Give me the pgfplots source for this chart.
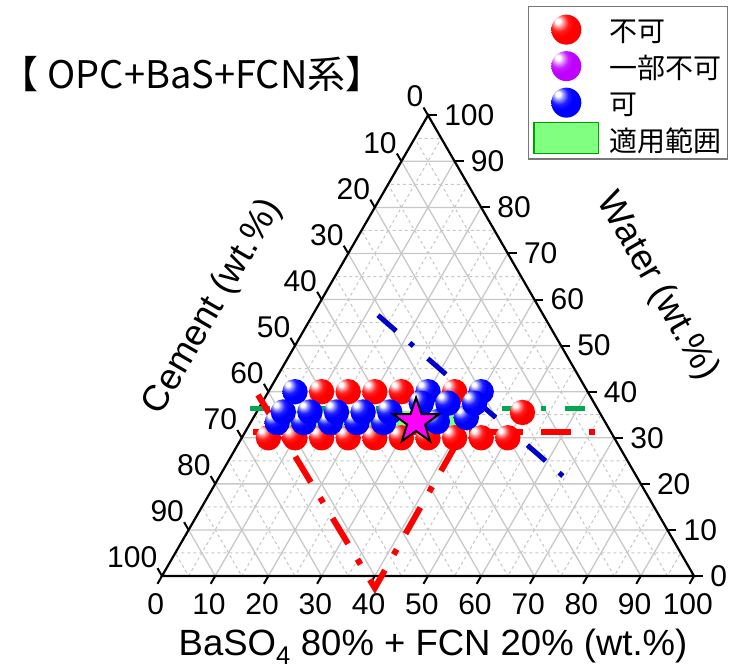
\documentclass[border=0pt]{standalone}
\usepackage{pgfplots}
\pgfplotsset{compat=1.18}
\usepackage{pgfplotstable}
\usepackage{fontspec}
\setmainfont{Liberation Sans}
\newfontfamily\jp{Noto Sans CJK JP}

\definecolor{bRed}{RGB}{255,0,0}
\definecolor{bBlue}{RGB}{0,0,255}
\definecolor{bPurple}{RGB}{191,0,255}
\definecolor{starMag}{RGB}{255,0,255}
\definecolor{bandGreen}{RGB}{128,255,128}
\definecolor{bandEdge}{RGB}{0,160,0}
\definecolor{lineGreen}{RGB}{0,168,80}
\definecolor{lineBlue}{RGB}{0,0,204}
\definecolor{gridMajor}{RGB}{200,200,200}
\definecolor{gridMinor}{RGB}{198,198,198}
\definecolor{legFrame}{RGB}{120,120,120}

\newcommand\tickfont{\fontsize{30}{34}\selectfont}
\newcommand\axfont{\fontsize{36.5}{42}\selectfont}

% glossy sphere shadings for the markers
\pgfdeclareradialshading{shRed}{\pgfpoint{-15bp}{15bp}}{color(0bp)=(white); color(4bp)=(white); color(9bp)=(bRed!45!white); color(15bp)=(bRed!88!white); color(22bp)=(bRed); color(58bp)=(bRed); color(75bp)=(bRed!85!black)}
\pgfdeclareradialshading{shBlue}{\pgfpoint{-15bp}{15bp}}{color(0bp)=(white); color(4bp)=(white); color(9bp)=(bBlue!45!white); color(15bp)=(bBlue!88!white); color(22bp)=(bBlue); color(58bp)=(bBlue); color(75bp)=(bBlue!85!black)}
\pgfdeclareradialshading{shPurple}{\pgfpoint{-15bp}{15bp}}{color(0bp)=(white); color(4bp)=(white); color(9bp)=(bPurple!45!white); color(15bp)=(bPurple!88!white); color(22bp)=(bPurple); color(58bp)=(bPurple); color(75bp)=(bPurple!85!black)}

\pgfdeclareplotmark{ballR}{\pgfpathcircle{\pgfpointorigin}{\pgfplotmarksize}\pgfshadepath{shRed}{0}\pgfusepath{discard}}
\pgfdeclareplotmark{ballB}{\pgfpathcircle{\pgfpointorigin}{\pgfplotmarksize}\pgfshadepath{shBlue}{0}\pgfusepath{discard}}
\pgfdeclareplotmark{ballP}{\pgfpathcircle{\pgfpointorigin}{\pgfplotmarksize}\pgfshadepath{shPurple}{0}\pgfusepath{discard}}

% filled five-pointed star
\pgfdeclareplotmark{fstar}{%
  \pgfpathmoveto{\pgfpointpolar{90}{\pgfplotmarksize}}%
  \pgfpathlineto{\pgfpointpolar{126}{0.39*\pgfplotmarksize}}%
  \pgfpathlineto{\pgfpointpolar{162}{\pgfplotmarksize}}%
  \pgfpathlineto{\pgfpointpolar{198}{0.39*\pgfplotmarksize}}%
  \pgfpathlineto{\pgfpointpolar{234}{\pgfplotmarksize}}%
  \pgfpathlineto{\pgfpointpolar{270}{0.39*\pgfplotmarksize}}%
  \pgfpathlineto{\pgfpointpolar{306}{\pgfplotmarksize}}%
  \pgfpathlineto{\pgfpointpolar{342}{0.39*\pgfplotmarksize}}%
  \pgfpathlineto{\pgfpointpolar{18}{\pgfplotmarksize}}%
  \pgfpathlineto{\pgfpointpolar{54}{0.39*\pgfplotmarksize}}%
  \pgfpathclose
  \pgfusepathqfillstroke}

% ternary (BaSO4+FCN = b, water = w, cement = 100-b-w) to Cartesian
\pgfplotsset{
  table/tern/.style={x expr={\thisrow{b}+0.5*\thisrow{w}}, y expr={0.8660254*\thisrow{w}}},
  ballleg/.style={legend image code/.code={%
      \path[draw=none, fill=none] (-1pt,-10pt) rectangle (65pt,22pt);
      \begin{scope}[shift={(32pt,4pt)}]\pgfsetplotmarksize{15pt}\pgfuseplotmark{#1}\end{scope}}},
  rectleg/.style={legend image code/.code={%
      \path[draw=none, fill=none] (-1pt,-10pt) rectangle (65pt,22pt);
      \path[fill=bandGreen, draw=bandEdge, line width=1.2pt] (-0.4pt,-10.4pt) rectangle (64.4pt,20.4pt);}},
}

\pgfplotstableread{
b w
5 30
10 30
15 30
20 30
25 30
30 30
35 30
40 30
45 30
50 30
10 40
15 40
20 40
25 40
35 40
50 35.5
}\redpts

\pgfplotstableread{
b w
5 40
30 40
40 40
5 33.3
10 33.3
15 33.3
20 33.3
25 33.3
35 33.5
5 35.6
10 35.6
15 35.6
20 35.6
25 35.6
40 34.4
30 37.5
35 37.5
40 37.5
}\bluepts

\begin{document}
\begin{tikzpicture}
\begin{axis}[
  x=5.32pt, y=5.32pt,
  xmin=-30.45, xmax=107.33, ymin=-17.29, ymax=108.27,
  hide axis, clip=false,
  legend cell align=left,
  legend style={at={(0.99318,0.99102)}, anchor=north east,
    draw=legFrame, line width=1.3pt, fill=white,
    inner xsep=5pt, inner ysep=5pt, row sep=3.5pt,
    nodes={inner sep=1pt, text height=18pt, text depth=2pt},
    font=\jp\fontsize{28}{30}\selectfont,
    /tikz/every odd column/.append style={column sep=9pt}},
]
\path (axis cs:-30.45,-17.29) rectangle (axis cs:107.33,108.27);

\addlegendimage{ballleg=ballR}
\addlegendentry{不可}
\addlegendimage{ballleg=ballP}
\addlegendentry{一部不可}
\addlegendimage{ballleg=ballB}
\addlegendentry{可}
\addlegendimage{rectleg}
\addlegendentry{適用範囲}

% minor grid (every 5)
\addplot[gridMinor, line width=1pt, dash pattern=on 3pt off 3pt, line join=round] table[tern] {
b w
0 5
95 5
85 15
0 15
0 25
75 25
65 35
0 35
0 45
55 45
45 55
0 55
0 65
35 65
25 75
0 75
0 85
15 85
5 95
0 95
};
\addplot[gridMinor, line width=1pt, dash pattern=on 3pt off 3pt, line join=round] table[tern] {
b w
5 0
5 95
15 85
15 0
25 0
25 75
35 65
35 0
45 0
45 55
55 45
55 0
65 0
65 35
75 25
75 0
85 0
85 15
95 5
95 0
};
\addplot[gridMinor, line width=1pt, dash pattern=on 3pt off 3pt, line join=round] table[tern] {
b w
95 0
0 95
0 85
85 0
75 0
0 75
0 65
65 0
55 0
0 55
0 45
45 0
35 0
0 35
0 25
25 0
15 0
0 15
0 5
5 0
};
% major grid (every 10)
\addplot[gridMajor, line width=1.3pt, line join=round] table[tern] {
b w
0 10
90 10
80 20
0 20
0 30
70 30
60 40
0 40
0 50
50 50
40 60
0 60
0 70
30 70
20 80
0 80
0 90
10 90
};
\addplot[gridMajor, line width=1.3pt, line join=round] table[tern] {
b w
10 0
10 90
20 80
20 0
30 0
30 70
40 60
40 0
50 0
50 50
60 40
60 0
70 0
70 30
80 20
80 0
90 0
90 10
};
\addplot[gridMajor, line width=1.3pt, line join=round] table[tern] {
b w
90 0
0 90
0 80
80 0
70 0
0 70
0 60
60 0
50 0
0 50
0 40
40 0
30 0
0 30
0 20
20 0
10 0
0 10
};

% application range band
\addplot[draw=none, fill=bandGreen] table[tern] {
b w
5 32
40.4 32
38.5 35.8
3.1 35.8
};

% triangle frame
\addplot[black, line width=2.2pt, line join=miter] table[tern] {
b w
50 0
100 0
0 100
0 0
50 0
};

% ticks
\addplot[black, line width=2pt, quiver={u=-0.846, v=-1.465}] table[tern] {
b w
0 0
10 0
20 0
30 0
40 0
50 0
60 0
70 0
80 0
90 0
100 0
};
\addplot[black, line width=2pt, quiver={u=1.69, v=0}] table[tern] {
b w
100 0
90 10
80 20
70 30
60 40
50 50
40 60
30 70
20 80
10 90
0 100
};
\addplot[black, line width=2pt, quiver={u=-0.846, v=1.465}] table[tern] {
b w
0 100
0 90
0 80
0 70
0 60
0 50
0 40
0 30
0 20
0 10
0 0
};

% tick labels
\addplot[draw=none, mark=none, point meta=explicit symbolic, nodes near coords={\pgfplotspointmeta},
  nodes near coords style={anchor=north, inner sep=0pt, xshift=-1.7pt, yshift=-10pt, font=\tickfont, text=black}]
  table[tern, meta=lab] {
b w lab
0 -1.7 0
10 -1.7 10
20 -1.7 20
30 -1.7 30
40 -1.7 40
50 -1.7 50
60 -1.7 60
70 -1.7 70
80 -1.7 80
90 -1.7 90
100 -1.7 100
};
\addplot[draw=none, mark=none, point meta=explicit symbolic, nodes near coords={\pgfplotspointmeta},
  nodes near coords style={anchor=west, inner sep=0pt, xshift=7pt, font=\tickfont, text=black}]
  table[tern, meta=lab] {
b w lab
101.7 0 0
91.7 10 10
81.7 20 20
71.7 30 30
61.7 40 40
51.7 50 50
41.7 60 60
31.7 70 70
21.7 80 80
11.7 90 90
1.7 100 100
};
\addplot[draw=none, mark=none, point meta=explicit symbolic, nodes near coords={\pgfplotspointmeta},
  nodes near coords style={anchor=south east, inner sep=0pt, font=\tickfont, text=black}]
  table[tern, meta=lab] {
b w lab
-1.7 101.7 0
-1.7 91.7 10
-1.7 81.7 20
-1.7 71.7 30
-1.7 61.7 40
-1.7 51.7 50
-1.7 41.7 60
-1.7 31.7 70
-1.7 21.7 80
-1.7 11.7 90
-1.7 1.7 100
};

% samples
\addplot[only marks, mark=ballR, mark size=12.7pt] table[tern] {\redpts};
\addplot[only marks, mark=ballB, mark size=12.7pt] table[tern] {\bluepts};

% boundary lines
\addplot[lineGreen, line width=5pt, dash pattern=on 20pt off 19pt on 5pt off 19pt] table[tern] {
b w
-1.7 36.4
64.1 36.4
};
\addplot[bRed, line width=6pt, dash pattern=on 30pt off 18pt on 6pt off 18pt] table[tern] {
b w
1.45 31.3
67.95 31.3
};
\addplot[bRed, line width=6pt, dash pattern=on 30pt off 18pt on 6pt off 18pt, line join=miter] table[tern] {
b w
-1.6 39.3
41.3 -2.6
40.9 38.8
};
\addplot[lineBlue, line width=5pt, dash pattern=on 24pt off 18pt on 5pt off 19pt] table[tern] {
b w
12.3 56.6
64.5 21.7
};

% selected mix
\addplot[only marks, mark=fstar, mark size=24pt, mark options={fill=starMag, draw=black, line width=2pt}] table[tern] {
b w
31 33.5
};

% titles
\node[rotate=60, font=\axfont] at (axis cs:9.59,50.56) {Cement (wt.\%)};
\node[rotate=-60, font=\axfont] at (axis cs:93.05,54.32) {Water (wt.\%)};
\node[anchor=base, font=\axfont] at (axis cs:50.94,-14.85) {BaSO\textsubscript{4} 80\% + FCN 20\% (wt.\%)};
\node[anchor=west, inner sep=0pt, font=\jp\fontsize{38}{42}\selectfont] at (axis cs:-30.3,94.4) {【 OPC+BaS+FCN系】};
\end{axis}
\end{tikzpicture}
\end{document}
